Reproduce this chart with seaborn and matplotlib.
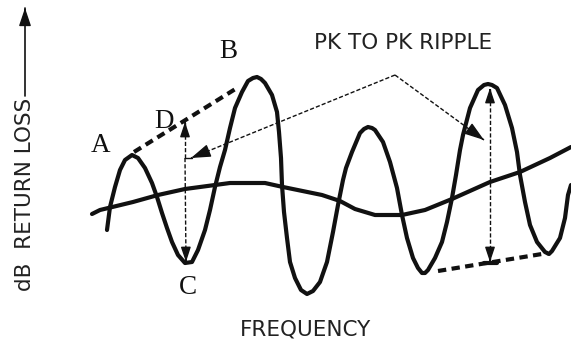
"""Return loss ripple sketch: peak-to-peak ripple on a return loss trace."""

import matplotlib
matplotlib.use("Agg")
import matplotlib.pyplot as plt
import pandas as pd
import seaborn as sns

# Traced curves, in picture units (x to the right, y downwards)
wave_x = [107, 110, 115, 120, 125, 132, 138, 145, 152, 157, 162, 167, 172, 178,
          185, 192, 198, 205, 210, 215, 220, 225, 230, 235, 242, 248, 253, 257,
          261, 265, 272, 277, 279, 281, 282, 284, 287, 290, 295, 301, 307, 313,
          320, 327, 333, 338, 343, 346, 352, 360, 364, 368, 372, 375, 383, 390,
          397, 402, 407, 413, 418, 422, 425, 428, 435, 442, 447, 452, 456, 460,
          463, 470, 478, 484, 488, 492, 497, 505, 512, 517, 520, 525, 530, 537,
          545, 549, 552, 560, 565, 568, 571]
wave_y = [230, 207, 187, 170, 160, 155, 158, 168, 183, 197, 213, 228, 242, 255,
          263, 262, 250, 230, 210, 187, 167, 150, 128, 108, 92, 81, 78, 77,
          79, 83, 95, 112, 132, 158, 185, 212, 238, 262, 278, 290, 294, 291,
          282, 262, 232, 205, 180, 168, 152, 133, 129, 127, 128, 130, 142, 162,
          188, 215, 238, 258, 268, 273, 273, 270, 258, 242, 222, 198, 175, 150,
          135, 108, 90, 85, 84, 85, 88, 105, 128, 152, 175, 202, 225, 242,
          252, 254, 251, 238, 218, 195, 185]

base_x = [92, 100, 133, 158, 185, 215, 230, 265, 283, 322, 340, 355, 375, 402,
          425, 452, 490, 520, 550, 571]
base_y = [214, 210, 202, 195, 189, 185, 183, 183, 187, 195, 201, 209, 215, 215,
          210, 199, 182, 172, 158, 147]

# Ripple envelopes (dashed)
top_env_x = [134, 237]
top_env_y = [152, 88]
bot_env_x = [438, 548]
bot_env_y = [271, 253]

# Point labels
point_names = ["A", "B", "C", "D"]
point_x = [101, 228, 188, 164]
point_y = [146, 51, 288, 121]

ink = "#111111"

sns.set_style("white")
plt.rcParams["font.family"] = ["DejaVu Sans"]

fig = plt.figure(figsize=(5.71, 3.41), dpi=100)
ax = fig.add_axes([0, 0, 1, 1])

wave = pd.DataFrame({"x": wave_x, "y": wave_y})
base = pd.DataFrame({"x": base_x, "y": base_y})
curve_kw = dict(sort=False, color=ink, lw=3.0, solid_joinstyle="round",
                solid_capstyle="round", ax=ax)
sns.lineplot(data=wave, x="x", y="y", **curve_kw)
sns.lineplot(data=base, x="x", y="y", **curve_kw)
sns.lineplot(x=top_env_x, y=top_env_y, color=ink, lw=3.0,
             linestyle=(0, (2.0, 1.3)), ax=ax)
sns.lineplot(x=bot_env_x, y=bot_env_y, color=ink, lw=3.0,
             linestyle=(0, (2.0, 1.3)), ax=ax)


def arrow(x0, y0, x1, y1, both=False, lw=1.0, ls=(0, (3, 1.5)), head=0.9):
    ax.plot([x0, x1], [y0, y1], color=ink, lw=lw, linestyle=ls)
    style = f"-|>,head_length={head},head_width={head / 3:.2f}"
    ends = [(x0, y0, x1, y1)]
    if both:
        ends.append((x1, y1, x0, y0))
    for a0, b0, a1, b1 in ends:
        f = 0.02
        ax.annotate("", xy=(a1, b1), xytext=(a1 - (a1 - a0) * f, b1 - (b1 - b0) * f),
                    arrowprops=dict(arrowstyle=style, color=ink, lw=1.0,
                                    shrinkA=0, shrinkB=0))


# D and C arrows
arrow(185, 158, 185, 122)
arrow(185, 158, 186, 262)
ax.plot([185, 192], [158, 158], color=ink, lw=1.0)
# pointers from the ripple label
arrow(395, 75, 191, 158, head=1.2)
arrow(395, 75, 484, 140, head=1.2)
# peak to peak span on the right
arrow(490, 262, 490, 88, both=True)
ax.plot([484, 497], [263, 263], color=ink, lw=3.0)
# y axis arrow
arrow(25, 96, 25, 8, lw=1.2, ls="-", head=1.1)

for name, px, py in zip(point_names, point_x, point_y):
    ax.text(px, py, name, fontsize=19.5, family="Liberation Serif",
            ha="center", va="center", color=ink)

ax.text(403, 43, "PK TO PK RIPPLE", fontsize=15.5, ha="center", va="center",
        color="#222222")
ax.text(305, 329, "FREQUENCY", fontsize=15.5, ha="center", va="center",
        color="#222222")
ax.text(25, 291, "dB  RETURN LOSS", fontsize=15.5, rotation=90,
        rotation_mode="anchor", ha="left", va="center", color="#222222")

ax.set_xlim(0, 571)
ax.set_ylim(341, 0)
ax.axis("off")

fig.savefig("out.png", dpi=100)
